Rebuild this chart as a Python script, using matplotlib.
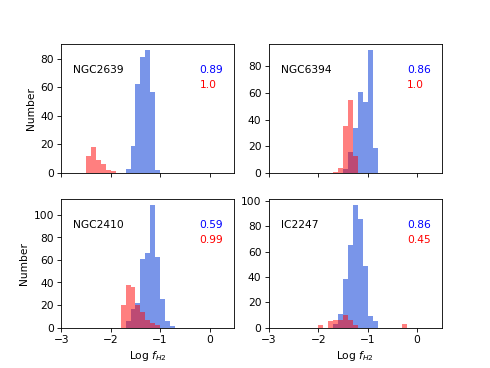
import numpy as np
import matplotlib
matplotlib.use("Agg")
import matplotlib.pyplot as plt

names = ["NGC2639", "NGC6394", "NGC2410", "IC2247"]
blue_labels = ["0.89", "0.86", "0.59", "0.86"]
red_labels = ["1.0", "1.0", "0.99", "0.45"]

bin_width = 0.1
blue_start = [-1.7, -1.5, -1.7, -1.7]
blue_counts = [
    [3, 19, 62, 81, 86, 57, 2],
    [3, 16, 34, 61, 53, 92, 19],
    [6, 16, 22, 61, 66, 109, 63, 25, 6, 1],
    [3, 11, 38, 65, 97, 86, 49, 9, 5],
]
red_start = [-2.5, -1.7, -1.8, -2.0]
red_counts = [
    [12, 18, 9, 6, 2, 1],
    [1, 4, 35, 55, 13],
    [20, 38, 36, 20, 14, 7, 4, 2],
    [2, 0, 5, 6, 6, 10, 6, 2, 0, 0, 0, 0, 0, 0, 0, 0, 0, 3],
]

fig, axes = plt.subplots(2, 2, figsize=(6.4, 4.8), dpi=76.7, sharex=True)
axes = axes.ravel()

for i, ax in enumerate(axes):
    bc = np.array(blue_counts[i], dtype=float)
    be = np.round(blue_start[i] + bin_width * np.arange(len(bc) + 1), 3)
    ax.hist(be[:-1], bins=be, weights=bc, color="royalblue", alpha=0.7)
    rc = np.array(red_counts[i], dtype=float)
    re = np.round(red_start[i] + bin_width * np.arange(len(rc) + 1), 3)
    ax.hist(re[:-1], bins=re, weights=rc, color="red", alpha=0.5)
    ax.set_xlim(-3, 0.5)
    ax.set_xticks([-3, -2, -1, 0])
    ax.text(0.07, 0.80, names[i], transform=ax.transAxes, va="center", ha="left", fontsize=10)
    ax.text(0.80, 0.80, blue_labels[i], transform=ax.transAxes, va="center", ha="left",
            color="blue", fontsize=10)
    ax.text(0.80, 0.68, red_labels[i], transform=ax.transAxes, va="center", ha="left",
            color="red", fontsize=10)
    if i % 2 == 0:
        ax.set_ylabel("Number")
    if i >= 2:
        ax.set_xlabel(r"Log $f_{H2}$")

fig.savefig("out.png", dpi=76.7)
